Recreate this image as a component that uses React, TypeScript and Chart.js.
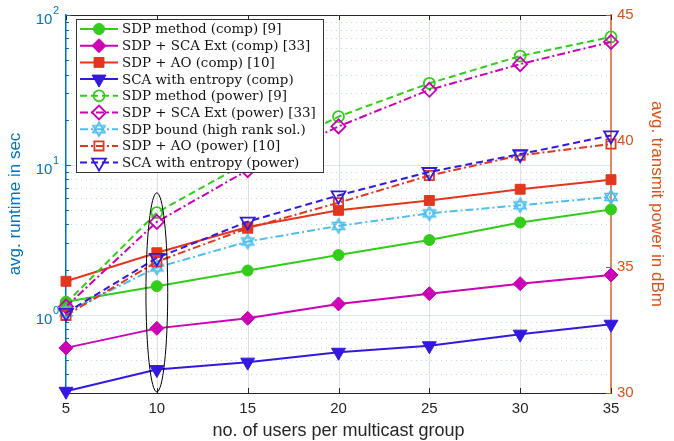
import React, { useEffect, useRef } from 'react';
import { Chart, registerables } from 'chart.js';

Chart.register(...registerables);

// ---------------- data ----------------
const users = [5, 10, 15, 20, 25, 30, 35];

// avg. runtime in sec (left, log axis)
const sdpComp = [1.22, 1.55, 1.97, 2.5, 3.15, 4.12, 5.04];
const scaExtComp = [0.6, 0.81, 0.945, 1.18, 1.38, 1.61, 1.84];
const aoComp = [1.67, 2.59, 3.85, 4.97, 5.78, 6.87, 7.96];
const entropyComp = [0.308, 0.43, 0.482, 0.561, 0.62, 0.741, 0.863];

// avg. transmit power in dBm (right axis)
const sdpPower = [33.56, 37.16, 39.16, 40.97, 42.29, 43.37, 44.13];
const scaExtPower = [33.43, 36.79, 38.84, 40.58, 42.03, 43.05, 43.93];
const boundPower = [33.2, 34.98, 36.01, 36.63, 37.13, 37.45, 37.78];
const aoPower = [33.08, 35.21, 36.54, 37.55, 38.63, 39.43, 39.88];
const entropyPower = [33.18, 35.36, 36.8, 37.84, 38.77, 39.48, 40.22];

const seriesLabels = [
  'SDP method (comp) [9]',
  'SDP + SCA Ext (comp) [33]',
  'SDP + AO (comp) [10]',
  'SCA with entropy (comp)',
  'SDP method (power) [9]',
  'SDP + SCA Ext (power) [33]',
  'SDP bound (high rank sol.)',
  'SDP + AO (power) [10]',
  'SCA with entropy (power)',
];

const xTicks = [5, 10, 15, 20, 25, 30, 35];
const runtimeDecades = [1, 10, 100];
const runtimeMinorMultipliers = [2, 3, 4, 5, 6, 7, 8, 9];
const powerTicks = [30, 35, 40, 45];
const runtimeRange = [0.305, 100];
const powerRange = [30, 45];

// highlighted group (ellipse) at 10 users
const highlightX = 10;
const highlightHalfWidth = 0.6;
const highlightRuntimeSpan = [0.305, 6.5];

// ---------------- style ----------------
const GREEN = '#33CC1A';
const MAGENTA = '#CC00B5';
const RED = '#E2361E';
const BLUE = '#3319E0';
const LIGHTBLUE = '#4DBEEE';
const AXBLUE = '#0072BD';
const AXORANGE = '#D95319';
const DARK = '#262626';
const NONE = 'rgba(0,0,0,0)';
const SANS = '"Liberation Sans", Arial, sans-serif';

function makeHexagram(color: string) {
  const c = document.createElement('canvas');
  c.width = 18;
  c.height = 18;
  const g = c.getContext('2d')!;
  const r = 7;
  g.strokeStyle = color;
  g.lineWidth = 1.6;
  for (const start of [0, Math.PI]) {
    g.beginPath();
    for (let k = 0; k < 3; k++) {
      const a = start + (k * 2 * Math.PI) / 3;
      const px = 9 + Math.sin(a) * r;
      const py = 9 - Math.cos(a) * r;
      if (k === 0) g.moveTo(px, py);
      else g.lineTo(px, py);
    }
    g.closePath();
    g.stroke();
  }
  return c;
}

function drawMarker(ctx: CanvasRenderingContext2D, ds: any, x: number, y: number) {
  const style = ds.pointStyle;
  const r = ds.pointRadius;
  if (style instanceof HTMLCanvasElement) {
    ctx.drawImage(style, x - style.width / 2, y - style.height / 2);
    return;
  }
  ctx.save();
  ctx.translate(x, y);
  ctx.rotate(((ds.pointRotation || 0) * Math.PI) / 180);
  ctx.beginPath();
  if (style === 'circle') ctx.arc(0, 0, r, 0, Math.PI * 2);
  else if (style === 'rect') {
    const s = r * Math.SQRT1_2;
    ctx.rect(-s, -s, 2 * s, 2 * s);
  } else if (style === 'rectRot') {
    ctx.moveTo(-r, 0);
    ctx.lineTo(0, -r);
    ctx.lineTo(r, 0);
    ctx.lineTo(0, r);
    ctx.closePath();
  } else if (style === 'triangle') {
    for (let k = 0; k < 3; k++) {
      const a = (k * 2 * Math.PI) / 3;
      const px = Math.sin(a) * r;
      const py = -Math.cos(a) * r;
      if (k === 0) ctx.moveTo(px, py);
      else ctx.lineTo(px, py);
    }
    ctx.closePath();
  }
  ctx.fillStyle = ds.pointBackgroundColor;
  ctx.fill();
  ctx.lineWidth = ds.pointBorderWidth;
  ctx.strokeStyle = ds.pointBorderColor;
  ctx.stroke();
  ctx.restore();
}

const decorPlugin = {
  id: 'decor',
  beforeDatasetsDraw(chart: any) {
    const { ctx, chartArea: a, scales } = chart;
    const xs = scales.x;
    const yl = scales.y;
    const yr = scales.y1;
    const hline = (y: number) => {
      ctx.beginPath();
      ctx.moveTo(a.left, y);
      ctx.lineTo(a.right, y);
      ctx.stroke();
    };
    ctx.save();
    ctx.lineWidth = 1;
    // minor log grid (dotted)
    ctx.setLineDash([1, 4]);
    ctx.strokeStyle = 'rgba(0,114,189,0.28)';
    const minors: number[] = [];
    for (const d of [0.1, 1, 10]) {
      for (const m of runtimeMinorMultipliers) {
        const v = m * d;
        if (v > runtimeRange[0] && v < runtimeRange[1]) minors.push(v);
      }
    }
    for (const v of minors) hline(Math.round(yl.getPixelForValue(v)) + 0.5);
    ctx.setLineDash([]);
    // major horizontal grid
    ctx.strokeStyle = 'rgba(0,114,189,0.16)';
    for (const v of runtimeDecades) {
      if (v > runtimeRange[0] && v < runtimeRange[1]) hline(Math.round(yl.getPixelForValue(v)) + 0.5);
    }
    // vertical grid
    ctx.strokeStyle = 'rgba(38,38,38,0.14)';
    for (const v of xTicks) {
      if (v === xTicks[0] || v === xTicks[xTicks.length - 1]) continue;
      const x = Math.round(xs.getPixelForValue(v)) + 0.5;
      ctx.beginPath();
      ctx.moveTo(x, a.top);
      ctx.lineTo(x, a.bottom);
      ctx.stroke();
    }
    // top border
    ctx.strokeStyle = DARK;
    ctx.beginPath();
    ctx.moveTo(a.left, Math.round(a.top) + 0.5);
    ctx.lineTo(a.right, Math.round(a.top) + 0.5);
    ctx.stroke();
    // x ticks (inward, bottom and top)
    for (const v of xTicks) {
      const x = Math.round(xs.getPixelForValue(v)) + 0.5;
      ctx.beginPath();
      ctx.moveTo(x, a.bottom);
      ctx.lineTo(x, a.bottom - 5);
      ctx.moveTo(x, a.top);
      ctx.lineTo(x, a.top + 5);
      ctx.stroke();
    }
    // left ticks
    ctx.strokeStyle = AXBLUE;
    for (const v of runtimeDecades) {
      const y = Math.round(yl.getPixelForValue(v)) + 0.5;
      ctx.beginPath();
      ctx.moveTo(a.left, y);
      ctx.lineTo(a.left + 5, y);
      ctx.stroke();
    }
    for (const v of minors) {
      const y = Math.round(yl.getPixelForValue(v)) + 0.5;
      ctx.beginPath();
      ctx.moveTo(a.left, y);
      ctx.lineTo(a.left + 3, y);
      ctx.stroke();
    }
    // right ticks
    ctx.strokeStyle = AXORANGE;
    for (const v of powerTicks) {
      const y = Math.round(yr.getPixelForValue(v)) + 0.5;
      ctx.beginPath();
      ctx.moveTo(a.right, y);
      ctx.lineTo(a.right - 5, y);
      ctx.stroke();
    }
    ctx.restore();
  },
  afterDatasetsDraw(chart: any) {
    const { ctx, scales } = chart;
    const xs = scales.x;
    const yl = scales.y;
    const cx = xs.getPixelForValue(highlightX);
    const rx = xs.getPixelForValue(highlightX + highlightHalfWidth) - cx;
    const top = yl.getPixelForValue(highlightRuntimeSpan[1]);
    const bottom = yl.getPixelForValue(highlightRuntimeSpan[0]);
    ctx.save();
    ctx.strokeStyle = '#000';
    ctx.lineWidth = 1;
    ctx.beginPath();
    ctx.ellipse(cx, (top + bottom) / 2, rx, (bottom - top) / 2, 0, 0, Math.PI * 2);
    ctx.stroke();
    ctx.restore();
  },
  afterDraw(chart: any) {
    const { ctx, chartArea: a, scales } = chart;
    const yl = scales.y;
    ctx.save();
    // left decade labels 10^n
    ctx.fillStyle = AXBLUE;
    ctx.textBaseline = 'alphabetic';
    for (const v of runtimeDecades) {
      const y = yl.getPixelForValue(v);
      const exp = String(Math.round(Math.log10(v)));
      ctx.font = `11px ${SANS}`;
      const supW = ctx.measureText(exp).width;
      const right = a.left - 7;
      ctx.textAlign = 'left';
      ctx.fillText(exp, right - supW, y - 1);
      ctx.font = `15px ${SANS}`;
      ctx.textAlign = 'right';
      ctx.fillText('10', right - supW - 0.5, y + 9);
    }
    // legend
    const lx = 76;
    const ly = 19;
    const lw = 247;
    const lh = 153;
    ctx.fillStyle = '#fff';
    ctx.fillRect(lx, ly, lw, lh);
    ctx.strokeStyle = '#333';
    ctx.lineWidth = 1;
    ctx.strokeRect(lx + 0.5, ly + 0.5, lw, lh);
    let fs = 13;
    ctx.font = `${fs}px "DejaVu Serif", serif`;
    let maxW = 0;
    for (const t of seriesLabels) maxW = Math.max(maxW, ctx.measureText(t).width);
    fs = Math.max(10, Math.min(17, (13 * 194) / maxW));
    ctx.font = `${fs}px "DejaVu Serif", serif`;
    ctx.textAlign = 'left';
    ctx.textBaseline = 'middle';
    chart.data.datasets.forEach((ds: any, i: number) => {
      const y = ly + 10 + i * 16.7;
      ctx.save();
      ctx.strokeStyle = ds.borderColor;
      ctx.lineWidth = ds.borderWidth;
      ctx.setLineDash(ds.borderDash || []);
      ctx.beginPath();
      ctx.moveTo(lx + 4, y);
      ctx.lineTo(lx + 42, y);
      ctx.stroke();
      ctx.restore();
      drawMarker(ctx, ds, lx + 23, y);
      ctx.fillStyle = '#111';
      ctx.fillText(ds.label, lx + 46, y + 1);
    });
    ctx.restore();
  },
};

function pts(values: number[]) {
  return users.map((x, i) => ({ x, y: values[i] }));
}

export default function App() {
  const ref = useRef<HTMLCanvasElement>(null);
  useEffect(() => {
    const canvas = ref.current!;
    const hex = makeHexagram(LIGHTBLUE);
    const base = { fill: false, tension: 0, borderWidth: 2, clip: false as any, pointHoverRadius: 0 };
    const specs: any[] = [
      { data: sdpComp, axis: 'y', color: GREEN, style: 'circle', r: 5.5, filled: true, dash: [] },
      { data: scaExtComp, axis: 'y', color: MAGENTA, style: 'rectRot', r: 7, filled: true, dash: [] },
      { data: aoComp, axis: 'y', color: RED, style: 'rect', r: 7, filled: true, dash: [] },
      { data: entropyComp, axis: 'y', color: BLUE, style: 'triangle', rot: 180, r: 8, filled: true, dash: [] },
      { data: sdpPower, axis: 'y1', color: GREEN, style: 'circle', r: 5.5, filled: false, dash: [7, 4] },
      { data: scaExtPower, axis: 'y1', color: MAGENTA, style: 'rectRot', r: 7, filled: false, dash: [8, 3, 2, 3] },
      { data: boundPower, axis: 'y1', color: LIGHTBLUE, style: hex, r: 7, filled: false, dash: [8, 3, 2, 3] },
      { data: aoPower, axis: 'y1', color: RED, style: 'rect', r: 6.5, filled: false, dash: [8, 3, 2, 3] },
      { data: entropyPower, axis: 'y1', color: BLUE, style: 'triangle', rot: 180, r: 8, filled: false, dash: [7, 4] },
    ];
    const datasets = specs.map((s, i) => ({
      ...base,
      label: seriesLabels[i],
      data: pts(s.data),
      yAxisID: s.axis,
      borderColor: s.color,
      borderDash: s.dash,
      pointStyle: s.style,
      pointRotation: s.rot || 0,
      pointRadius: s.r,
      pointBorderColor: s.color,
      pointBackgroundColor: s.filled ? s.color : NONE,
      pointBorderWidth: s.filled ? 1 : 1.8,
      order: specs.length - 1 - i,
    }));

    const chart = new Chart(canvas, {
      type: 'line',
      data: { datasets },
      options: {
        responsive: false,
        animation: false,
        devicePixelRatio: 1,
        layout: { padding: { top: 13, left: 0, right: 0, bottom: 0 } },
        font: { family: SANS },
        plugins: { legend: { display: false }, tooltip: { enabled: false } },
        events: [],
        scales: {
          x: {
            type: 'linear',
            min: xTicks[0],
            max: xTicks[xTicks.length - 1],
            ticks: { stepSize: 5, color: DARK, font: { size: 15, family: SANS }, padding: 7 },
            grid: { drawOnChartArea: false, drawTicks: false },
            border: { display: true, color: DARK, width: 1 },
            title: {
              display: true,
              text: 'no. of users per multicast group',
              color: DARK,
              font: { size: 18, family: SANS, lineHeight: 1.1 },
              padding: { top: 0, bottom: 0 },
            },
            afterFit: (s: any) => {
              s.height = 48;
            },
          },
          y: {
            type: 'logarithmic',
            position: 'left',
            min: runtimeRange[0],
            max: runtimeRange[1],
            ticks: { display: false },
            grid: { drawOnChartArea: false, drawTicks: false },
            border: { display: true, color: AXBLUE, width: 1.5 },
            title: {
              display: true,
              text: 'avg. runtime in sec',
              color: AXBLUE,
              font: { size: 17, family: SANS },
              padding: { top: 5, bottom: 0 },
            },
            afterFit: (s: any) => {
              s.width = 66;
            },
          },
          y1: {
            type: 'linear',
            position: 'right',
            min: powerRange[0],
            max: powerRange[1],
            ticks: { stepSize: 5, color: AXORANGE, font: { size: 15, family: SANS }, padding: 6 },
            grid: { drawOnChartArea: false, drawTicks: false },
            border: { display: true, color: 'rgba(217,83,25,0.7)', width: 2 },
            title: {
              display: true,
              text: 'avg. transmit power in dBm',
              color: AXORANGE,
              font: { size: 17, family: SANS },
              padding: { top: 7, bottom: 0 },
            },
            afterFit: (s: any) => {
              s.width = 63;
            },
          },
        },
      } as any,
      plugins: [decorPlugin],
    });
    return () => chart.destroy();
  }, []);

  return (
    <div style={{ position: 'fixed', left: 0, top: 0, width: 674, height: 441, background: '#fff' }}>
      <canvas ref={ref} width={674} height={441} style={{ width: 674, height: 441, display: 'block' }} />
    </div>
  );
}
